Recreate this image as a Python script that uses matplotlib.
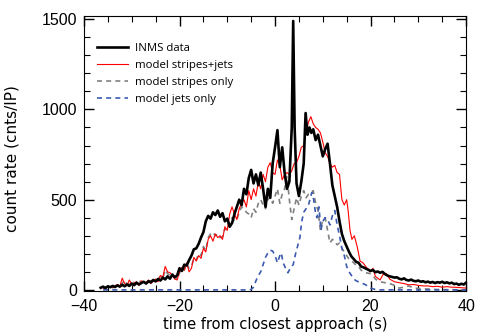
import matplotlib
matplotlib.use("Agg")
from matplotlib import pyplot as plt
from matplotlib.ticker import MultipleLocator

# INMS data (count rate vs time from closest approach)
inms_t = [-36.5, -36, -35.5, -35, -34.5, -34, -33.5, -33, -32.5, -32, -31.5, -31, -30.5, -30,
          -29.5, -29, -28.5, -28, -27.5, -27, -26.5, -26, -25.5, -25, -24.5, -24, -23.5, -23,
          -22.5, -22, -21.5, -21, -20.5, -20, -19.5, -19, -18.5, -18, -17.5, -17, -16.5, -16,
          -15.5, -15, -14.5, -14, -13.5, -13, -12.5, -12, -11.5, -11, -10.5, -10, -9.5, -9,
          -8.5, -8, -7.5, -7, -6.5, -6, -5.5, -5, -4.5, -4, -3.5, -3, -2.5, -2, -1.5, -1,
          -0.5, 0, 0.5, 1, 1.5, 2, 2.5, 3, 3.5, 3.8, 4.1, 4.5, 5, 5.5, 6, 6.4, 6.8, 7.2,
          7.6, 8, 8.5, 9, 9.5, 10, 10.5, 11, 11.5, 12, 12.5, 13, 13.5, 14, 14.5, 15, 15.5,
          16, 16.5, 17, 17.5, 18, 18.5, 19, 19.5, 20, 20.5, 21, 21.5, 22, 22.5, 23, 23.5,
          24, 24.5, 25, 25.5, 26, 26.5, 27, 27.5, 28, 28.5, 29, 29.5, 30, 30.5, 31, 31.5,
          32, 32.5, 33, 33.5, 34, 34.5, 35, 35.5, 36, 36.5, 37, 37.5, 38, 38.5, 39, 39.5, 40]
inms_c = [12, 18, 10, 20, 15, 22, 16, 25, 18, 28, 20, 30, 22, 35,
          26, 40, 30, 38, 45, 35, 48, 42, 55, 47, 60, 52, 68, 58,
          75, 62, 85, 70, 80, 120, 105, 140, 135, 165, 190, 225, 230, 255,
          290, 320, 380, 410, 395, 430, 415, 440, 405, 425, 380, 395, 350, 370,
          420, 460, 500, 470, 560, 530, 620, 665, 590, 640, 580, 650, 560, 460, 560, 510,
          700, 790, 885, 680, 790, 650, 560, 600, 900, 1490, 900, 590, 520, 600, 700, 980, 860, 900,
          870, 890, 830, 860, 800, 740, 780, 810, 700, 580, 520, 460, 380, 310, 270, 240, 210,
          185, 170, 155, 150, 130, 125, 118, 112, 105, 110, 98, 102, 95, 100, 88, 80,
          75, 72, 68, 70, 62, 58, 64, 55, 52, 57, 50, 48, 52, 45, 48, 42,
          46, 40, 44, 38, 43, 40, 45, 38, 42, 36, 40, 32, 35, 28, 34, 30, 40]

# model stripes+jets
both_t = [-36, -35, -34, -33, -32.5, -32, -31.5, -31, -30.5, -30, -29, -28.5, -28, -27, -26.5,
          -26, -25, -24.5, -24, -23.5, -23, -22.5, -22, -21.5, -21, -20.5, -20, -19.5, -19,
          -18.5, -18, -17.5, -17, -16.5, -16, -15.5, -15, -14.5, -14, -13.5, -13, -12.5, -12,
          -11.5, -11, -10.5, -10, -9.5, -9, -8.5, -8, -7.5, -7, -6.5, -6, -5.5, -5, -4.5, -4,
          -3.5, -3, -2.5, -2, -1.5, -1, -0.5, 0, 0.5, 1, 1.5, 2, 2.5, 3, 3.5, 4, 4.5, 5, 5.5,
          6, 6.5, 7, 7.5, 8, 8.5, 9, 9.5, 10, 10.5, 11, 11.5, 12, 12.5, 13, 13.5, 14, 14.5,
          15, 15.3, 15.7, 16.1, 16.6, 17.2, 17.8, 18.4, 19, 19.9, 20.5, 21, 22, 22.6, 23.3,
          24, 25, 26, 27, 28, 29, 30, 31, 32, 33, 34, 35, 36, 37, 38, 39, 40]
both_c = [10, 20, 15, 30, 20, 65, 35, 25, 55, 30, 45, 25, 50, 40, 55,
          35, 60, 45, 80, 70, 130, 100, 95, 80, 60, 55, 100, 125, 110,
          150, 100, 120, 180, 160, 190, 175, 230, 210, 280, 300, 270, 310, 290,
          300, 280, 350, 330, 420, 460, 420, 390, 450, 480, 500, 460, 550, 500, 560, 520,
          600, 560, 640, 600, 680, 705, 650, 640, 720, 690, 610, 640, 650, 640, 660, 700, 705, 740, 790,
          800, 870, 930, 960, 920, 900, 890, 870, 820, 760, 740, 700, 680, 690, 650, 640, 500, 470,
          500, 440, 330, 280, 300, 240, 160, 150, 130, 100, 120, 75, 55, 85, 90,
          60, 45, 40, 35, 28, 30, 25, 22, 22, 18, 20, 15, 18, 15, 14, 12, 10]

# model stripes only
stripes_t = [-36, -35, -34, -33, -32, -31.5, -31, -30, -29, -28.5, -28, -27, -26, -25, -24.5,
             -24, -23.5, -23, -22.5, -22, -21.5, -21, -20.5, -20, -19.5, -19, -18.5, -18, -17.5,
             -17, -16.5, -16, -15.5, -15, -14.5, -14, -13.5, -13, -12.5, -12, -11.5, -11, -10.5,
             -10, -9.5, -9, -8.5, -8, -7.5, -7, -6.5, -6, -5.5, -5, -4.5, -4, -3.5, -3, -2.5,
             -2, -1.5, -1, -0.5, 0, 0.5, 1, 1.5, 2, 2.5, 3, 3.5, 4, 4.5, 5, 5.5, 6, 6.5, 7,
             7.5, 8, 8.5, 9, 9.5, 10, 10.5, 11, 11.5, 12, 12.5, 13, 13.5, 14, 14.5, 15, 15.5,
             16, 16.5, 17, 17.5, 18, 18.5, 19, 20, 20.5, 21, 22, 23, 24, 25, 26, 27, 28, 29,
             30, 31, 32, 33, 34, 35, 36, 37, 38, 39, 40]
stripes_c = [8, 18, 12, 25, 35, 55, 30, 45, 35, 55, 40, 45, 50, 55, 60,
             75, 65, 110, 90, 80, 70, 75, 60, 95, 120, 110, 145, 120, 130,
             175, 165, 200, 190, 240, 220, 290, 310, 320, 300, 310, 290, 295, 340,
             330, 370, 400, 380, 390, 430, 460, 450, 430, 420, 400, 450, 430, 480, 500, 470,
             450, 500, 515, 480, 520, 560, 480, 530, 560, 630, 500, 390, 450, 510, 470, 520, 550, 510, 530,
             540, 550, 480, 440, 330, 390, 400, 330, 260, 280, 270, 250, 260, 230, 210, 190, 170,
             160, 150, 135, 130, 110, 100, 95, 90, 80, 60, 45, 40, 35, 25, 10, 15, 22, 10,
             8, 5, 5, 3, 2, 2, 1, 1, 1, 0, 0]

# model jets only
jets_t = [-36, -30, -20, -10, -6, -5, -4.5, -4, -3.5, -3, -2.5, -2, -1.5, -1, -0.5, 0, 0.5,
          1, 1.3, 1.7, 2.2, 2.7, 3.2, 3.8, 4.3, 4.8, 5.2, 5.6, 6, 6.5, 7, 7.3, 7.7, 8.1, 8.5,
          8.8, 9.2, 9.6, 10, 10.5, 11, 11.5, 12, 12.5, 13, 13.5, 14, 14.5, 15, 15.5, 16, 16.5,
          17, 18, 19, 20, 21, 22, 30, 40]
jets_c = [0, 0, 0, 0, 0, 2, 15, 50, 80, 100, 140, 180, 205, 220, 215, 190, 150,
          190, 205, 150, 120, 95, 120, 140, 200, 250, 290, 380, 430, 450, 470, 500, 540, 500, 420,
          400, 460, 330, 380, 400, 390, 360, 410, 440, 360, 300, 230, 190, 130, 100, 80, 60,
          50, 40, 28, 10, 2, 0, 0, 0]

plt.rcParams['font.family'] = ['Liberation Sans', 'DejaVu Sans']

fig = plt.figure(figsize=(4.8, 3.36), dpi=100)
ax = fig.add_axes([0.175, 0.134, 0.796, 0.818])

ax.plot(inms_t, inms_c, color="black", lw=1.9, label="INMS data", zorder=4)
ax.plot(both_t, both_c, color="red", lw=0.8, label="model stripes+jets", zorder=3)
ax.plot(stripes_t, stripes_c, color="#808080", lw=1.2, dashes=(3, 2.5),
        label="model stripes only", zorder=2)
ax.plot(jets_t, jets_c, color="#3a5bb0", lw=1.2, dashes=(3, 2.5),
        label="model jets only", zorder=2)

ax.set_xlim(-40, 40)
ax.set_ylim(-6, 1517)
ax.xaxis.set_major_locator(MultipleLocator(20))
ax.xaxis.set_minor_locator(MultipleLocator(5))
ax.yaxis.set_major_locator(MultipleLocator(500))
ax.yaxis.set_minor_locator(MultipleLocator(100))
ax.tick_params(which="both", direction="in", top=True, right=True, labelsize=11.5)
ax.tick_params(which="major", length=7, width=1)
ax.tick_params(which="minor", length=4, width=0.8)
ax.tick_params(axis="x", pad=6)
ax.tick_params(axis="y", pad=5)

ax.set_xlabel("time from closest approach (s)", family="DejaVu Sans", fontsize=10.5, labelpad=2)
ax.set_ylabel("count rate (cnts/IP)", family="DejaVu Sans", fontsize=11, labelpad=9)
ax.yaxis.set_label_coords(-0.17, 0.48)

leg = ax.legend(loc="upper left", bbox_to_anchor=(0.008, 0.94), frameon=False,
                prop={"family": "Open Sans", "size": 8.2}, handlelength=2.7,
                labelspacing=0.52, handletextpad=0.6)

fig.savefig("out.png", dpi=100)
